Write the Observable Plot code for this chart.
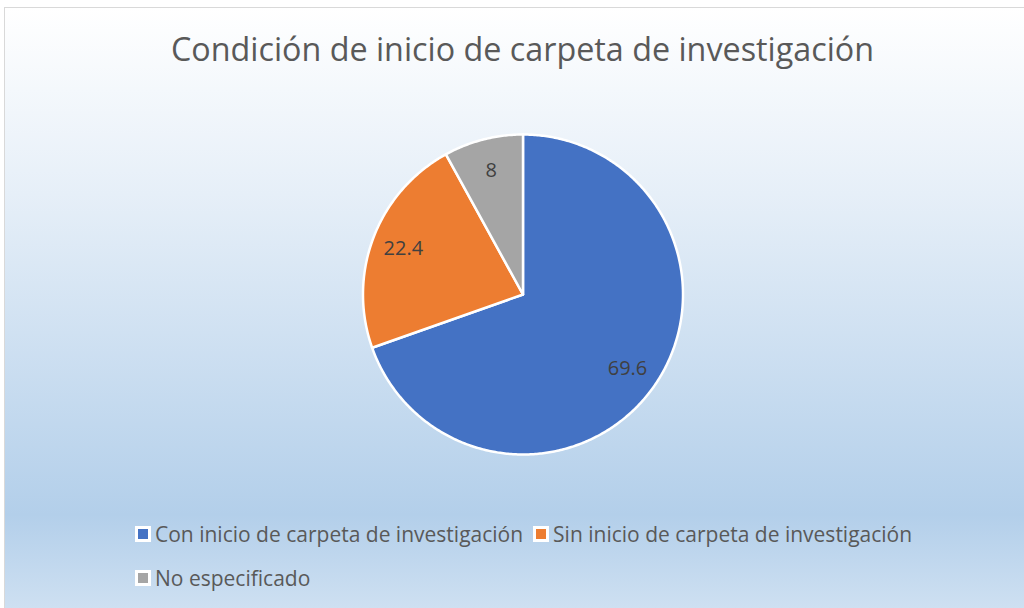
<!DOCTYPE html>
<html>
<head>
<meta charset="utf-8">
<script src="https://cdn.jsdelivr.net/npm/d3@7"></script>
<script src="https://cdn.jsdelivr.net/npm/@observablehq/plot@0.6"></script>
<style>
  html, body { margin: 0; padding: 0; width: 1024px; height: 608px; overflow: hidden; background: #ffffff; }
  #frame {
    position: absolute; left: 4px; top: 7px; width: 1040px; height: 620px;
    border: 1px solid #d9d9d9; box-sizing: border-box;
    background: linear-gradient(to bottom, #ffffff 0%, #e6eff8 30%, #b3cfea 82%, #d3e3f3 100%);
    font-family: "Open Sans", Lato, sans-serif;
  }
  #title {
    position: absolute; left: 0; width: 1035px; top: 18px; text-align: center;
    font-size: 32.3px; color: #595959; white-space: nowrap;
  }
  #chart { position: absolute; left: -5px; top: 107px; }
  #legend { position: absolute; left: 130px; top: 512px; width: 840px; font-size: 21px; color: #595959; }
  .item { display: inline-flex; align-items: center; height: 28px; margin-right: 10px; margin-bottom: 16px; white-space: nowrap; }
  .sw { width: 10px; height: 10px; border: 3px solid #ffffff; margin-right: 4px; }
</style>
</head>
<body>
<div id="frame">
  <div id="title"></div>
  <div id="chart"></div>
  <div id="legend"></div>
</div>
<script>
const titleText = "Condición de inicio de carpeta de investigación";
const categories = ["Con inicio de carpeta de investigación", "Sin inicio de carpeta de investigación", "No especificado"];
const values = [69.6, 22.4, 8];
const labels = ["69.6", "22.4", "8"];
const colors = ["#4472C4", "#ED7D31", "#A5A5A5"];

document.getElementById("title").textContent = titleText;

// Pie geometry from data (clockwise from 12 o'clock)
const arcs = d3.pie().sort(null).value(d => d)(values);
const sliceRows = [];
arcs.forEach((a, i) => {
  sliceRows.push({cat: categories[i], x: 0, y: 0});
  const n = Math.max(2, Math.ceil((a.endAngle - a.startAngle) / 0.01));
  for (let k = 0; k <= n; k++) {
    const t = a.startAngle + (a.endAngle - a.startAngle) * k / n;
    sliceRows.push({cat: categories[i], x: Math.sin(t), y: Math.cos(t)});
  }
  sliceRows.push({cat: categories[i], x: 0, y: 0});
});
const labelRows = arcs.map((a, i) => {
  const m = (a.startAngle + a.endAngle) / 2;
  return {label: labels[i], x: 0.8 * Math.sin(m), y: 0.8 * Math.cos(m)};
});

const plot = Plot.plot({
  width: 1030,
  height: 360,
  margin: 0,
  axis: null,
  x: {domain: [-1, 1], range: [362.5, 682.5]},
  y: {domain: [-1, 1], range: [339, 19]},
  color: {domain: categories, range: colors},
  style: {background: "transparent", overflow: "visible"},
  marks: [
    Plot.line(sliceRows, {x: "x", y: "y", z: "cat", fill: "cat", stroke: "#ffffff", strokeWidth: 2.5, strokeLinejoin: "round", curve: "linear"}),
    Plot.text(labelRows, {x: "x", y: "y", text: "label", fill: "#404040", fontSize: 20, fontFamily: "'Open Sans', Lato, sans-serif"})
  ]
});
document.getElementById("chart").appendChild(plot);

const legend = document.getElementById("legend");
categories.forEach((c, i) => {
  const it = document.createElement("span");
  it.className = "item";
  const sw = document.createElement("span");
  sw.className = "sw";
  sw.style.background = colors[i];
  it.appendChild(sw);
  it.appendChild(document.createTextNode(c));
  legend.appendChild(it);
  if (i === 1) legend.appendChild(document.createElement("br"));
});
</script>
</body>
</html>
